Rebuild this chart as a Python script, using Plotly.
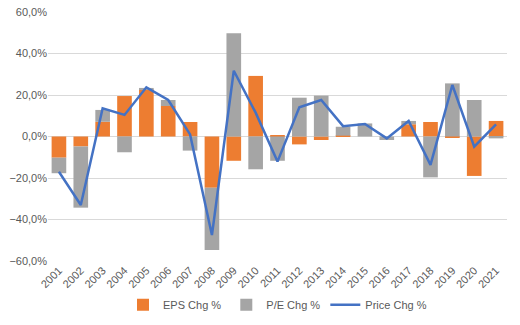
import plotly.graph_objects as go

years = [str(y) for y in range(2001, 2022)]
eps_chg = [-10.2, -4.8, 7.1, 19.5, 22.7, 14.7, 7.0, -24.7, -11.7, 29.2, 0.4,
           -3.8, -1.7, 0.4, 0.0, 0.0, 5.9, 7.0, -0.7, -19.0, 7.5]
pe_chg = [-7.5, -29.5, 5.7, -7.6, 0.7, 2.9, -6.8, -30.0, 49.7, -15.8, -11.7,
          18.7, 19.7, 4.3, 6.3, -1.7, 1.6, -19.7, 25.6, 17.6, -0.9]
price_chg = [-17.0, -33.0, 13.6, 10.4, 23.7, 17.6, 1.0, -47.5, 31.7, 11.5, -12.1,
             14.1, 17.6, 5.0, 6.0, -0.9, 7.5, -13.7, 24.8, -4.9, 5.9]

to_frac = lambda a: [v / 100 for v in a]

fig = go.Figure()
fig.add_trace(go.Bar(x=years, y=to_frac(eps_chg), name="EPS Chg %",
                     marker=dict(color="#ED7D31", line=dict(width=0))))
fig.add_trace(go.Bar(x=years, y=to_frac(pe_chg), name="P/E Chg %",
                     marker=dict(color="#A5A5A5", line=dict(width=0))))
fig.add_trace(go.Scatter(x=years, y=to_frac(price_chg), name="Price Chg %",
                         mode="lines", line=dict(color="#4472C4", width=2.5)))

fig.update_layout(
    width=520, height=325,
    barmode="relative", bargap=0.33,
    separators=",.",
    plot_bgcolor="white", paper_bgcolor="white",
    margin=dict(l=48, r=13, t=12, b=64, autoexpand=False),
    font=dict(family="Liberation Sans, Arial, sans-serif", size=11, color="#595959"),
    showlegend=True,
    legend=dict(orientation="h", x=0.5, xanchor="center", yref="container",
                y=0.062, yanchor="middle", font=dict(size=11, color="#595959"),
                traceorder="normal"),
    xaxis=dict(tickangle=-45, showgrid=False, showline=False, ticks="", automargin=False,
               tickfont=dict(size=11, color="#595959")),
    yaxis=dict(range=[-0.6, 0.6], dtick=0.2, tickformat=".1%", showgrid=True, automargin=False,
               gridcolor="#D9D9D9", gridwidth=1, zeroline=True, zerolinecolor="#D9D9D9",
               zerolinewidth=1, ticks="", tickfont=dict(size=11, color="#595959")),
)

fig.write_html("out.html")
